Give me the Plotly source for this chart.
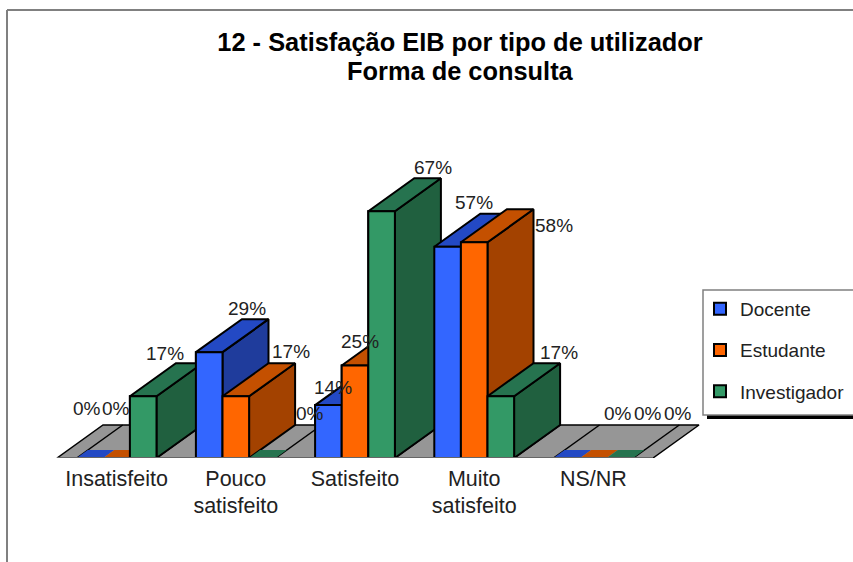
import plotly.graph_objects as go

categories = ["Insatisfeito", "Pouco<br>satisfeito", "Satisfeito", "Muito<br>satisfeito", "NS/NR"]
docente = [0, 28.6, 14.3, 57.1, 0]
estudante = [0, 16.7, 25, 58.3, 0]
investigador = [16.7, 0, 66.7, 16.7, 0]
series_names = ["Docente", "Estudante", "Investigador"]

series = [docente, estudante, investigador]
front_colors = ["#3366FF", "#FF6600", "#339966"]
top_colors = ["#2349C4", "#C45000", "#26734F"]
side_colors = ["#1F3C9C", "#A34200", "#20603F"]
FONT = "Liberation Sans"
W, H = 853, 562
PX_PER_CAT = 119.2
PX_PER_PCT = 3.70
BASE_PX = 458
CAT0_PX = 116.6
BAR_W = 26.6 / PX_PER_CAT
DX = 46 / PX_PER_CAT
DY = 33 / PX_PER_PCT
ZERO_DEPTH = 0.24

label_shift_x = [[-3, 38, 5, 26, 51], [-1, 55, 5, 80, 55], [22, 48, 51, 58, 58]]
label_shift_y = [[50, 44, 18, 44, 45], [50, 45, 24, 17, 45], [43, 45, 44, 44, 45]]


def poly(xs, ys, color, line=True):
    return go.Scatter(x=xs + xs[:1], y=ys + ys[:1], mode="lines", fill="toself", fillcolor=color,
                      line=dict(color="#000000" if line else color, width=2 if line else 0),
                      hoverinfo="skip", showlegend=False)


fig = go.Figure()
n = len(categories)
# legend-carrying, data-bound bars; the extruded faces are painted over them in depth order
for s, vals in enumerate(series):
    fig.add_trace(go.Bar(x=list(range(n)), y=vals, name=series_names[s], legendgroup=series_names[s],
                         marker=dict(color=front_colors[s], line=dict(color="#000000", width=2))))

floor_l, floor_r = -0.5, n - 0.5
fig.add_trace(poly([floor_l, floor_r, floor_r + DX, floor_l + DX], [0, 0, DY, DY], "#969696", line=False))
for i in range(n):
    for edge in (-1.5 * BAR_W, 1.5 * BAR_W):
        fig.add_trace(go.Scatter(x=[i + edge, i + edge + DX], y=[0, DY], mode="lines",
                                 line=dict(color="#000000", width=1.5), hoverinfo="skip", showlegend=False))
fig.add_trace(go.Scatter(x=[floor_l, floor_l + DX, floor_r + DX, floor_r], y=[0, DY, DY, 0], mode="lines",
                         line=dict(color="#000000", width=1.5), hoverinfo="skip", showlegend=False))

for i in range(n):
    for s in range(3):
        v = series[s][i]
        x0 = i + (s - 1.5) * BAR_W
        x1 = x0 + BAR_W
        if v == 0:
            fx, fy = DX * ZERO_DEPTH, DY * ZERO_DEPTH
            fig.add_trace(poly([x0, x1, x1 + fx, x0 + fx], [0, 0, fy, fy], top_colors[s], line=False))
            continue
        fig.add_trace(poly([x1, x1 + DX, x1 + DX, x1], [0, DY, v + DY, v], side_colors[s]))
        fig.add_trace(poly([x0, x1, x1 + DX, x0 + DX], [v, v, v + DY, v + DY], top_colors[s]))
        fig.add_trace(poly([x0, x1, x1, x0], [0, 0, v, v], front_colors[s]))

annotations = []
for s in range(3):
    for i in range(n):
        v = series[s][i]
        annotations.append(dict(x=i + (s - 1) * BAR_W, y=v, xref="x", yref="y", text=f"{round(v)}%", showarrow=False,
                                xanchor="center", yanchor="middle", xshift=label_shift_x[s][i],
                                yshift=label_shift_y[s][i], font=dict(family=FONT, size=19, color="#222222")))


def px(x):
    return x / W


def py(y):
    return (BASE_PX - y) / BASE_PX


annotations.append(dict(x=px(460), y=py(71), xref="paper", yref="paper", text="<b>Forma de consulta</b>",
                        showarrow=False, xanchor="center", yanchor="middle",
                        font=dict(family=FONT, size=25.4, color="#000000")))

shapes = [
    dict(type="line", xref="paper", yref="paper", x0=px(7), x1=px(7), y0=py(10), y1=py(562),
         line=dict(color="#808080", width=2)),
    dict(type="line", xref="paper", yref="paper", x0=px(7), x1=px(853), y0=py(10), y1=py(10),
         line=dict(color="#808080", width=2)),
    dict(type="rect", xref="paper", yref="paper", x0=px(707), x1=px(860), y0=py(294), y1=py(419),
         fillcolor="#000000", line=dict(width=0)),
    dict(type="rect", xref="paper", yref="paper", x0=px(703), x1=px(860), y0=py(290), y1=py(415),
         fillcolor="#FFFFFF", line=dict(color="#808080", width=1.5)),
]

fig.update_layout(
    width=W, height=H, autosize=False,
    margin=dict(l=0, r=0, t=0, b=H - BASE_PX, autoexpand=False),
    paper_bgcolor="#FFFFFF", plot_bgcolor="rgba(0,0,0,0)",
    barmode="group", bargap=1 - 3 * BAR_W,
    title=dict(text="<b>12 - Satisfação EIB por tipo de utilizador</b>",
               x=460 / W, xanchor="center", y=1 - 42 / H, yanchor="middle",
               font=dict(family=FONT, size=25.4, color="#000000")),
    xaxis=dict(range=[-CAT0_PX / PX_PER_CAT, (W - CAT0_PX) / PX_PER_CAT], tickvals=list(range(n)),
               ticktext=categories, showgrid=False, zeroline=False, showline=False, ticks="",
               tickfont=dict(family=FONT, size=21.5, color="#222222"), ticklabelstandoff=5),
    yaxis=dict(range=[0, BASE_PX / PX_PER_PCT], visible=False),
    legend=dict(x=px(700), xanchor="left", y=py(290), yanchor="top", bgcolor="rgba(0,0,0,0)",
                font=dict(family=FONT, size=19, color="#222222"), tracegroupgap=13.5, traceorder="grouped"),
    showlegend=True,
    shapes=shapes,
    annotations=annotations,
)
fig.add_shape(type="line", xref="x", yref="y", x0=floor_l, x1=floor_r, y0=0, y1=0,
              line=dict(color="#666666", width=2))

fig.write_html("out.html", config=dict(displayModeBar=False),
               post_script="document.body.style.margin='0';document.documentElement.style.overflow='hidden';")
